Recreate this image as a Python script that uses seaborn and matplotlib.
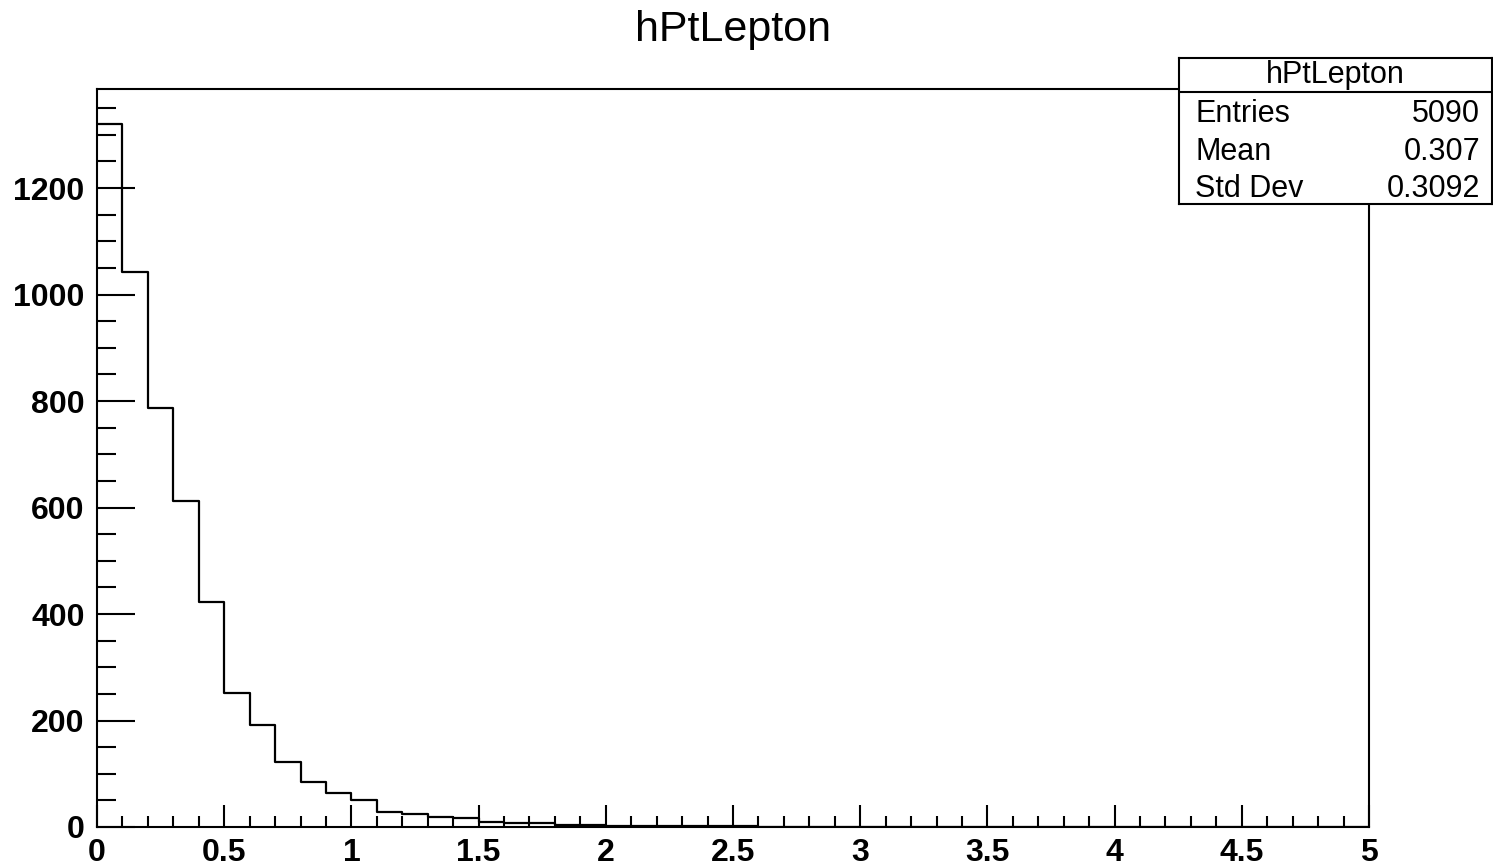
import numpy as np
import pandas as pd
import matplotlib
matplotlib.use("Agg")
import matplotlib.pyplot as plt
from matplotlib.ticker import MultipleLocator, FixedLocator
import seaborn as sns

# ---- data ----
bin_edges = [round(0.1 * i, 1) for i in range(51)]
counts = [1320, 1043, 787, 612, 422, 252, 192, 122, 85, 64,
          51, 28, 24, 19, 16, 10, 8, 8, 4, 3,
          2, 2, 1, 1, 1, 1, 0, 0, 0, 0,
          0, 0, 0, 0, 0, 0, 0, 0, 0, 0,
          0, 0, 0, 0, 0, 0, 0, 0, 0, 0]
hist_title = "hPtLepton"
stat_names = ["Entries", "Mean", "Std Dev"]
stat_values = ["5090", "0.307", "0.3092"]
x_major_ticks = [0, 0.5, 1, 1.5, 2, 2.5, 3, 3.5, 4, 4.5, 5]
x_tick_labels = ["0", "0.5", "1", "1.5", "2", "2.5", "3", "3.5", "4", "4.5", "5"]
y_major_ticks = [0, 200, 400, 600, 800, 1000, 1200]

centers = [(bin_edges[i] + bin_edges[i + 1]) / 2 for i in range(len(counts))]
df = pd.DataFrame({"pt": centers, "n": counts})

sns.set_theme(style="white")
plt.rcParams["font.family"] = ["Liberation Sans", "DejaVu Sans"]
plt.rcParams["text.color"] = "black"
plt.rcParams["xtick.color"] = "black"
plt.rcParams["ytick.color"] = "black"
plt.rcParams["axes.labelcolor"] = "black"

W, H = 1493, 867
fig = plt.figure(figsize=(W / 100, H / 100), dpi=100)
L, R, T, B = 97, 1369, 89, 827
ax = fig.add_axes([L / W, 1 - B / H, (R - L) / W, (B - T) / H])

sns.histplot(data=df, x="pt", weights="n", bins=bin_edges, element="step",
             fill=False, color="black", linewidth=1.6, ax=ax)

ax.set_xlim(0, 5)
ax.set_ylim(0, max(counts) * 1.05)
ax.set_xlabel("")
ax.set_ylabel("")

for s in ax.spines.values():
    s.set_visible(True)
    s.set_color("black")
    s.set_linewidth(1.5)

ax.xaxis.set_major_locator(FixedLocator(x_major_ticks))
ax.set_xticklabels(x_tick_labels)
ax.xaxis.set_minor_locator(MultipleLocator(0.1))
ax.yaxis.set_major_locator(FixedLocator(y_major_ticks))
ax.yaxis.set_minor_locator(MultipleLocator(50))

ax.tick_params(axis="x", which="both", direction="in", bottom=True, top=False,
               width=1.5, color="black", labelcolor="black", labelsize=23, pad=8)
ax.tick_params(axis="x", which="major", length=16)
ax.tick_params(axis="x", which="minor", length=8)
ax.tick_params(axis="y", which="both", direction="in", left=True, right=False,
               width=1.5, color="black", labelcolor="black", labelsize=23, pad=9)
ax.tick_params(axis="y", which="major", length=27)
ax.tick_params(axis="y", which="minor", length=13.5)
for lab in ax.get_xticklabels() + ax.get_yticklabels():
    lab.set_fontweight("bold")

fig.text((L + R) / 2 / W, 1 - 30 / H, hist_title, ha="center", va="center",
         fontsize=31, color="black")

# stats box
bx0, bx1, by0, by1 = 1179, 1492, 58, 204
sax = fig.add_axes([bx0 / W, 1 - by1 / H, (bx1 - bx0) / W, (by1 - by0) / H])
sax.set_xlim(0, 1)
sax.set_ylim(0, 1)
sax.set_xticks([])
sax.set_yticks([])
sax.set_facecolor("white")
for s in sax.spines.values():
    s.set_color("black")
    s.set_linewidth(1.5)
sep = 1 - (92.5 - by0) / (by1 - by0)
sax.axhline(sep, color="black", linewidth=1.5)
sax.text(0.5, 1 - (75 - by0) / (by1 - by0), hist_title, ha="center", va="center",
         fontsize=22, color="black")
row_y = [114, 152, 189]
for name, val, yy in zip(stat_names, stat_values, row_y):
    yf = 1 - (yy - by0) / (by1 - by0)
    sax.text((1195 - bx0) / (bx1 - bx0), yf, name, ha="left", va="center",
             fontsize=22, color="black")
    sax.text((1480 - bx0) / (bx1 - bx0), yf, val, ha="right", va="center",
             fontsize=22, color="black")

fig.savefig("out.png", dpi=100, facecolor="white")
